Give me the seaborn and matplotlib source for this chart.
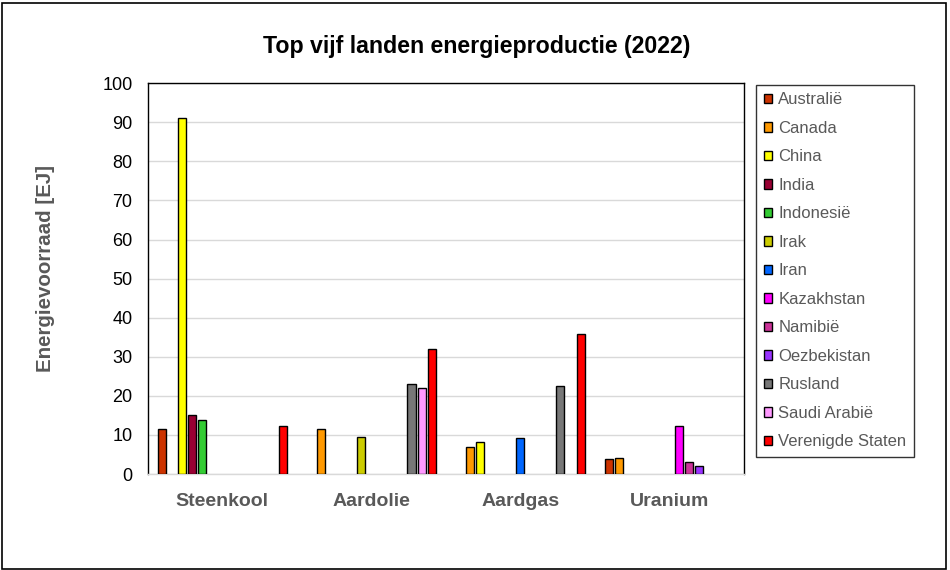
import numpy as np
import pandas as pd
import matplotlib
matplotlib.use("Agg")
import matplotlib.pyplot as plt
from matplotlib.patches import Patch, Rectangle
import seaborn as sns

# Energy production per resource, top five countries (EJ), 2022
resources = ["Steenkool", "Aardolie", "Aardgas", "Uranium"]
countries = ["Australië", "Canada", "China", "India", "Indonesië", "Irak", "Iran",
             "Kazakhstan", "Namibië", "Oezbekistan", "Rusland", "Saudi Arabië",
             "Verenigde Staten"]

# values per country, in order of resources (None = not in top five)
australie = [11.4, None, None, 3.75]
canada = [None, 11.6, 6.8, 4.0]
china = [91.2, None, 8.1, None]
india = [15.2, None, None, None]
indonesie = [13.9, None, None, None]
irak = [None, 9.4, None, None]
iran = [None, None, 9.1, None]
kazakhstan = [None, None, None, 12.4]
namibie = [None, None, None, 3.0]
oezbekistan = [None, None, None, 2.0]
rusland = [None, 23.1, 22.4, None]
saudi_arabie = [None, 22.1, None, None]
verenigde_staten = [12.2, 32.1, 35.9, None]

colors = ["#CC3300", "#FF9900", "#FFFF00", "#990033", "#33CC33", "#CCCC00", "#0066FF",
          "#FF00FF", "#CC3399", "#9933FF", "#777777", "#FF99FF", "#FF0000"]

series = [australie, canada, china, india, indonesie, irak, iran, kazakhstan,
          namibie, oezbekistan, rusland, saudi_arabie, verenigde_staten]

rows = []
for country, vals in zip(countries, series):
    for res, v in zip(resources, vals):
        if v is not None:
            rows.append({"Bron": res, "Land": country, "EJ": v})
df = pd.DataFrame(rows)
palette = dict(zip(countries, colors))

sns.set_style("white")
plt.rcParams["font.family"] = ["Liberation Sans", "DejaVu Sans"]

fig = plt.figure(figsize=(9.5, 5.7), dpi=100)
ax = fig.add_axes([0.1555, 0.1684, 0.6272, 0.6855])

sns.barplot(data=df, x="Bron", y="EJ", hue="Land", order=resources,
            hue_order=countries, palette=palette, saturation=1, width=0.88, gap=0.2,
            edgecolor="black", linewidth=1.0, legend=False, ax=ax, zorder=3)

ax.set_ylim(0, 100)
ax.set_yticks(np.arange(0, 101, 10))
ax.yaxis.grid(True, color="#d9d9d9", linewidth=1.0, zorder=0)
ax.set_axisbelow(True)
ax.tick_params(axis="y", length=0, pad=11, labelsize=13, labelcolor="black")
ax.tick_params(axis="x", length=0, pad=14)
for lbl in ax.get_xticklabels():
    lbl.set_fontsize(14)
    lbl.set_fontweight("bold")
    lbl.set_color("#595959")

for side in ["left", "top", "right"]:
    ax.spines[side].set_color("black")
    ax.spines[side].set_linewidth(1.0)
ax.spines["bottom"].set_color("#d9d9d9")
ax.spines["bottom"].set_linewidth(1.0)

ax.set_xlabel("")
ax.set_ylabel("Energievoorraad [EJ]", fontsize=14.8, fontweight="bold", color="#595959")
ax.yaxis.set_label_coords(-0.156, 0.525)

fig.text(0.502, 0.919, "Top vijf landen energieproductie (2022)", ha="center", va="center",
         fontsize=16.7, fontweight="bold", color="black")

handles = [Patch(facecolor=palette[c], edgecolor="black", linewidth=1.0) for c in countries]
leg = fig.legend(handles, countries, loc="upper left", bbox_to_anchor=(0.7958, 0.851),
                 frameon=True, fancybox=False, fontsize=12, labelcolor="#595959",
                 handlelength=0.48, handleheight=0.48, handletextpad=0.4,
                 labelspacing=0.81, borderpad=0.45, borderaxespad=0)
leg.get_frame().set_edgecolor("black")
leg.get_frame().set_linewidth(1.0)

# outer chart border
fig.patches.append(Rectangle((0.0025, 0.002), 0.993, 0.992, transform=fig.transFigure,
                             fill=False, edgecolor="black", linewidth=1.2))

fig.savefig("out.png", dpi=100)
